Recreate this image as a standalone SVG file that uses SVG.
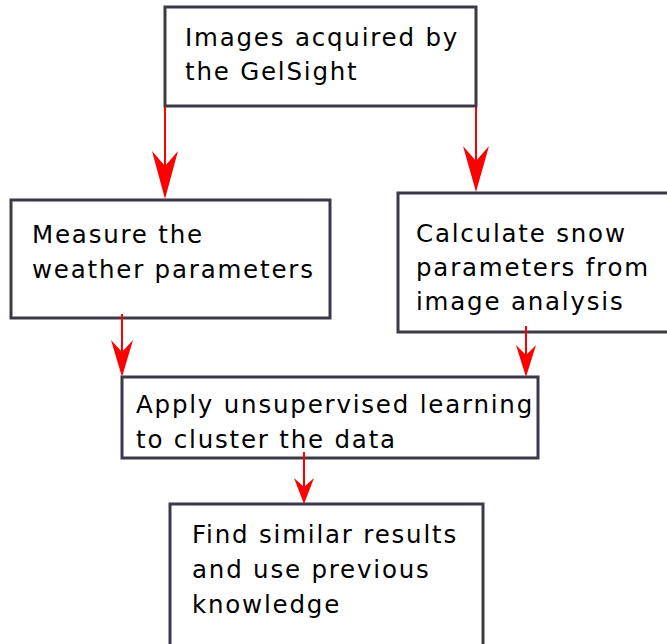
<svg xmlns="http://www.w3.org/2000/svg" width="667" height="644" viewBox="0 0 667 644">
<defs>
<style>
.box{fill:#fff;stroke:#3d3848;stroke-width:3}
.t{font-family:"DejaVu Sans",Verdana,sans-serif;font-size:24.5px;letter-spacing:1.8px;fill:#000}
.c{stroke:#ff0000;stroke-width:2;fill:none}
.h{fill:#ff0000;stroke:none}
</style>
</defs>
<rect width="667" height="644" fill="#fff"/>
<g id="n1"><rect class="box" x="165" y="7" width="311" height="99"/>
<text class="t" x="185" y="46">Images acquired by</text>
<text class="t" x="185" y="80">the GelSight</text></g>
<g id="n2"><rect class="box" x="11" y="200" width="319" height="118"/>
<text class="t" x="32" y="243">Measure the</text>
<text class="t" x="32" y="278">weather parameters</text></g>
<g id="n3"><rect class="box" x="398" y="193" width="272" height="139"/>
<text class="t" x="416" y="242">Calculate snow</text>
<text class="t" x="416" y="276">parameters from</text>
<text class="t" x="416" y="310">image analysis</text></g>
<g id="n4"><rect class="box" x="122" y="377" width="416" height="81"/>
<text class="t" x="136" y="413">Apply unsupervised learning</text>
<text class="t" x="136" y="448">to cluster the data</text></g>
<g id="n5"><rect class="box" x="170" y="504" width="313" height="145"/>
<text class="t" x="192" y="543">Find similar results</text>
<text class="t" x="192" y="578">and use previous</text>
<text class="t" x="192" y="613">knowledge</text></g>
<g id="connectors">
<line class="c" x1="165" y1="107" x2="165" y2="170"/>
<path class="h" d="M165,199 L152,151 L165,166 L178,151 Z"/>
<line class="c" x1="476" y1="107" x2="476" y2="165"/>
<path class="h" d="M476,192 L463,146 L476,161 L489,146 Z"/>
<line class="c" x1="122" y1="314" x2="122" y2="355"/>
<path class="h" d="M122,377 L111,340 L122,352 L133,340 Z"/>
<line class="c" x1="526" y1="326" x2="526" y2="360"/>
<path class="h" d="M526,377 L516,345 L526,355 L536,345 Z"/>
<line class="c" x1="304" y1="452" x2="304" y2="488"/>
<path class="h" d="M304,504 L294,478 L304,487 L314,478 Z"/>
</g>
</svg>
